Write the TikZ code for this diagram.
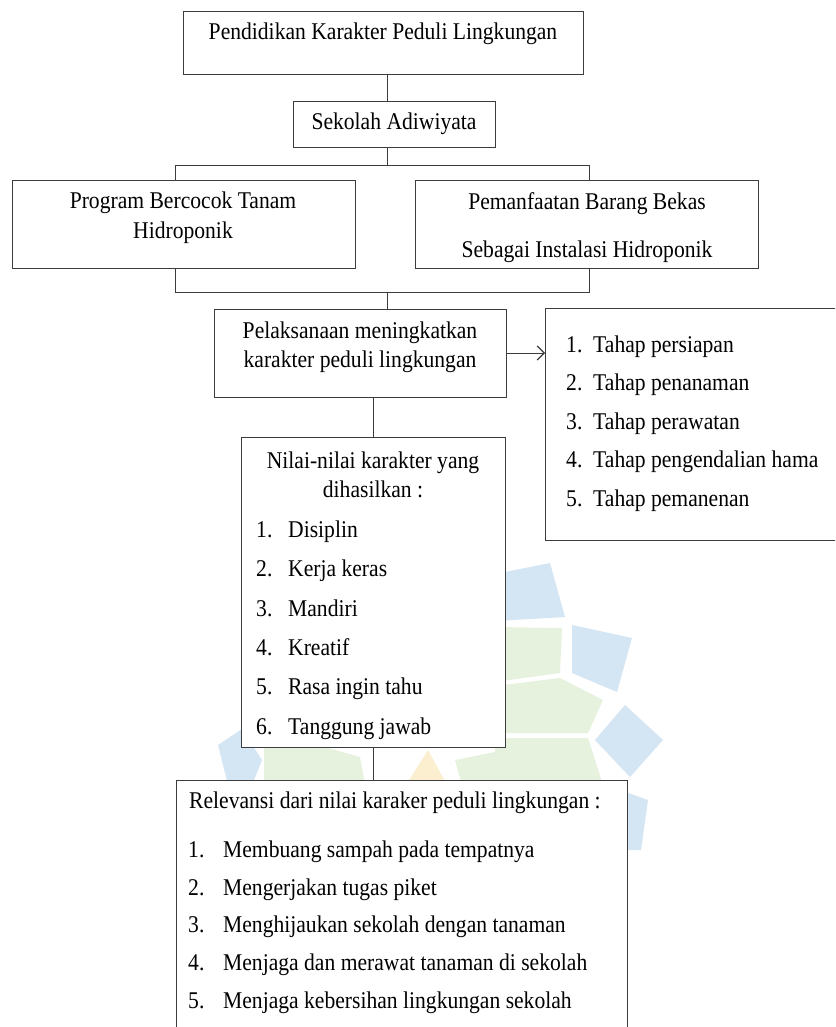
\documentclass[tikz,border=0pt]{standalone}
\usepackage{fontspec}
\setmainfont[FakeStretch=0.9]{Liberation Serif}
\usetikzlibrary{arrows.meta}
\definecolor{wmblue}{RGB}{212,229,244}
\definecolor{wmgreen}{RGB}{230,241,222}
\definecolor{wmyellow}{RGB}{252,239,208}
\definecolor{edge}{RGB}{60,60,60}
\tikzset{
  box/.style={draw=edge, line width=1pt, fill=white, rectangle, inner sep=0pt, outer sep=0pt, anchor=north west},
  txt/.style={font=\fontsize{24}{28}\selectfont, inner sep=0pt, anchor=base, text=black},
  ltxt/.style={txt, anchor=base west},
  link/.style={draw=edge, line width=1pt},
  arr/.style={link, -{Straight Barb[length=7pt,width=14pt,line width=1.2pt]}}
}
\begin{document}
\begin{tikzpicture}[x=1pt,y=-1pt]
\useasboundingbox (0,0) rectangle (835,1027);
\clip (0,0) rectangle (835,1027);
\fill[white] (0,0) rectangle (835,1027);
% faint watermark
\fill[wmblue] (495,574) -- (550,563) -- (565,617) -- (495,621) -- cycle;
\fill[wmblue] (572,625) -- (632,638) -- (617,692) -- (572,673) -- cycle;
\fill[wmblue] (595,740) -- (625,705) -- (663,740) -- (630,777) -- cycle;
\fill[wmblue] (620,790) -- (648,800) -- (641,850) -- (620,850) -- cycle;
\fill[wmgreen] (495,627) -- (562,628) -- (560,673) -- (495,682) -- cycle;
\fill[wmgreen] (495,686) -- (560,678) -- (603,700) -- (588,733) -- (495,733) -- cycle;
\fill[wmgreen] (495,738) -- (588,738) -- (603,785) -- (495,785) -- cycle;
\fill[wmblue] (218,745) -- (242,729) -- (262,760) -- (252,785) -- (228,785) -- cycle;
\fill[wmgreen] (264,733) -- (300,740) -- (360,757) -- (365,785) -- (264,785) -- cycle;
\fill[wmyellow] (406,785) -- (428,750) -- (447,785) -- cycle;
\fill[wmgreen] (455,760) -- (495,752) -- (495,785) -- (462,785) -- cycle;

% boxes
\node[box, minimum width=400pt, minimum height=63pt] (A) at (183,12) {};
\node[box, minimum width=202pt, minimum height=46pt] (B) at (293,102) {};
\node[box, minimum width=343pt, minimum height=87pt] (C) at (12,181) {};
\node[box, minimum width=343pt, minimum height=87pt] (D) at (415,181) {};
\node[box, minimum width=292pt, minimum height=88pt] (E) at (214,309) {};
\node[box, minimum width=300pt, minimum height=232pt] (F) at (545,308) {};
\node[box, minimum width=264pt, minimum height=310pt] (G) at (241,437) {};
\node[box, minimum width=451pt, minimum height=270pt] (H) at (176,780) {};

% connector coordinates
\coordinate (j1) at (387,0);
\coordinate (j2) at (373,0);
\coordinate (tl) at (175,166);
\coordinate (tr) at (589,166);
\coordinate (bl) at (175,292);
\coordinate (br) at (589,292);
\coordinate (ay) at (0,353);

\draw[link] (A.south -| j1) -- (B.north -| j1);
\draw[link] (B.south -| j1) -- (j1 |- tl);
\draw[link] (C.north -| tl) -- (tl) -- (tr) -- (D.north -| tr);
\draw[link] (C.south -| bl) -- (bl) -- (br) -- (D.south -| br);
\draw[link] (j1 |- bl) -- (E.north -| j1);
\draw[arr] (E.east |- ay) -- (F.west |- ay);
\draw[link] (E.south -| j2) -- (G.north -| j2);
\draw[link] (G.south -| j2) -- (H.north -| j2);

% texts
\node[txt] (tA) at (383,40) {Pendidikan Karakter Peduli Lingkungan};
\node[txt] (tB) at (394,130) {Sekolah Adiwiyata};
\node[txt] (tC1) at (183,208) {Program Bercocok Tanam};
\node[txt] (tC2) at (183,238) {Hidroponik};
\node[txt] (tD1) at (587,209) {Pemanfaatan Barang Bekas};
\node[txt] (tD2) at (587,257) {Sebagai Instalasi Hidroponik};
\node[txt] (tE1) at (360,338) {Pelaksanaan meningkatkan};
\node[txt] (tE2) at (360,367) {karakter peduli lingkungan};

\foreach \i/\y/\t in {1/352/Tahap persiapan, 2/390.5/Tahap penanaman, 3/429/Tahap perawatan, 4/467.5/Tahap pengendalian hama, 5/506/Tahap pemanenan}{
  \node[ltxt] (Fn\i) at (566,\y) {\i.};
  \node[ltxt] (Ft\i) at (593,\y) {\t};
}

\node[txt] (tG1) at (373,468) {Nilai-nilai karakter yang};
\node[txt] (tG2) at (373,497) {dihasilkan :};
\foreach \i/\y/\t in {1/537/Disiplin, 2/576/Kerja keras, 3/616/Mandiri, 4/655/Kreatif, 5/694/Rasa ingin tahu, 6/734/Tanggung jawab}{
  \node[ltxt] (Gn\i) at (256,\y) {\i.};
  \node[ltxt] (Gt\i) at (288,\y) {\t};
}

\node[ltxt] (tH) at (189,808) {Relevansi dari nilai karaker peduli lingkungan :};
\foreach \i/\y/\t in {1/857/Membuang sampah pada tempatnya, 2/895/Mengerjakan tugas piket, 3/932/Menghijaukan sekolah dengan tanaman, 4/970/Menjaga dan merawat tanaman di sekolah, 5/1008/Menjaga kebersihan lingkungan sekolah}{
  \node[ltxt] (Hn\i) at (188,\y) {\i.};
  \node[ltxt] (Ht\i) at (223,\y) {\t};
}
\end{tikzpicture}
\end{document}
